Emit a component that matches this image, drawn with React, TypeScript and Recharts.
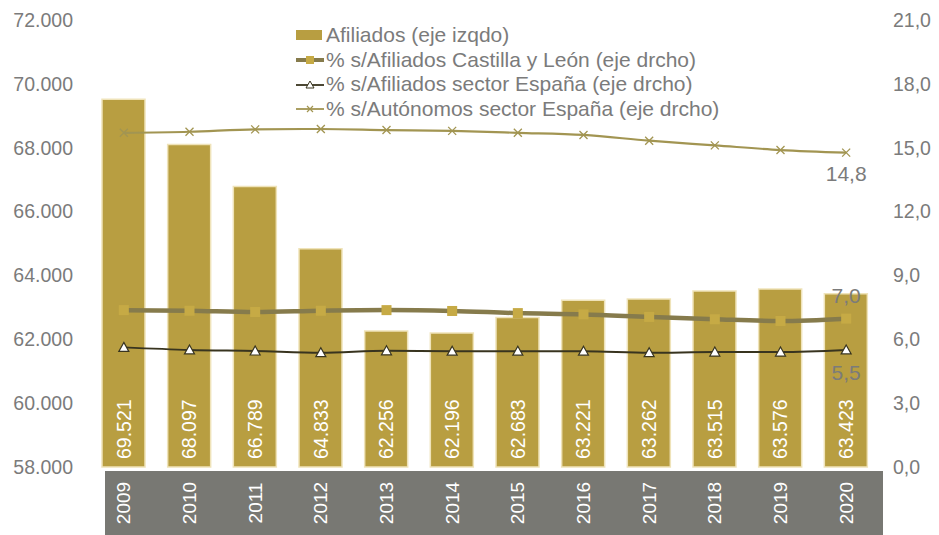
import { ComposedChart, Bar, Line, XAxis, YAxis, LabelList } from "recharts";

const years = ["2009", "2010", "2011", "2012", "2013", "2014", "2015", "2016", "2017", "2018", "2019", "2020"];
const afiliados = [69521, 68097, 66789, 64833, 62256, 62196, 62683, 63221, 63262, 63515, 63576, 63423];
const pctCyL = [7.37, 7.34, 7.28, 7.34, 7.37, 7.33, 7.23, 7.17, 7.05, 6.94, 6.86, 6.97];
const pctSector = [5.62, 5.5, 5.45, 5.37, 5.46, 5.44, 5.44, 5.44, 5.37, 5.4, 5.4, 5.5];
const pctAutonomos = [15.7, 15.75, 15.86, 15.88, 15.83, 15.79, 15.7, 15.6, 15.33, 15.11, 14.89, 14.77];
const leftTicks = [58000, 60000, 62000, 64000, 66000, 68000, 70000, 72000];
const rightTicks = [0, 3, 6, 9, 12, 15, 18, 21];

const data = years.map((year, i) => ({
  year,
  afiliados: afiliados[i],
  cyl: pctCyL[i],
  sector: pctSector[i],
  autonomos: pctAutonomos[i],
}));

const GREY = "#7b7b7b";
const BAR = "#b89e41";
const CYL_LINE = "#867b4c";
const CYL_DOT = "#c6aa45";
const SECTOR_LINE = "#38341f";
const AUTO_LINE = "#a29552";
const FONT = "'Liberation Sans', Arial, sans-serif";
const last = years.length - 1;

const fmtThousands = (v: number) => v.toLocaleString("de-DE");
const fmtComma = (v: number) => v.toFixed(1).replace(".", ",");

const YearTick = ({ x, y, payload }: any) => (
  <text
    x={x}
    y={y + 28}
    transform={`rotate(-90, ${x}, ${y + 28})`}
    textAnchor="middle"
    dominantBaseline="central"
    fill="#ffffff"
    fontSize={19}
    fontFamily={FONT}
  >
    {payload.value}
  </text>
);

const BarValue = ({ x, y, width, height, value }: any) => {
  const cx = x + width / 2;
  const by = y + height - 8;
  return (
    <text
      x={cx}
      y={by}
      transform={`rotate(-90, ${cx}, ${by})`}
      textAnchor="start"
      dominantBaseline="central"
      fill="#ffffff"
      fontSize={19.5}
      fontFamily={FONT}
    >
      {fmtThousands(value)}
    </text>
  );
};

const endLabel = (dy: number) => (props: any) => {
  if (props.index !== last) return <g />;
  return (
    <text
      x={props.x}
      y={props.y + dy}
      textAnchor="middle"
      dominantBaseline="central"
      fill={GREY}
      fontSize={21}
      fontFamily={FONT}
    >
      {fmtComma(props.value)}
    </text>
  );
};

const SquareDot = ({ cx, cy, index }: any) => (
  <rect key={`sq-${index}`} x={cx - 5} y={cy - 5} width={10} height={10} fill={CYL_DOT} />
);

const TriangleDot = ({ cx, cy, index }: any) => (
  <path
    key={`tr-${index}`}
    d={`M${cx},${cy - 5} L${cx + 5},${cy + 4} L${cx - 5},${cy + 4} Z`}
    fill="#ffffff"
    stroke={SECTOR_LINE}
    strokeWidth={1.2}
  />
);

const CrossDot = ({ cx, cy, index }: any) => (
  <path
    key={`x-${index}`}
    d={`M${cx - 4},${cy - 4} L${cx + 4},${cy + 4} M${cx - 4},${cy + 4} L${cx + 4},${cy - 4}`}
    stroke={AUTO_LINE}
    strokeWidth={1.3}
  />
);

const legendRows = [
  { label: "Afiliados (eje izqdo)", kind: "bar" },
  { label: "% s/Afiliados Castilla y León (eje drcho)", kind: "cyl" },
  { label: "% s/Afiliados sector España (eje drcho)", kind: "sector" },
  { label: "% s/Autónomos sector España (eje drcho)", kind: "auto" },
];

const LegendIcon = ({ kind }: { kind: string }) => (
  <svg width={30} height={14}>
    {kind === "bar" && <rect x={0} y={2} width={26} height={10} fill={BAR} />}
    {kind === "cyl" && (
      <>
        <line x1={0} y1={7} x2={28} y2={7} stroke={CYL_LINE} strokeWidth={4} />
        <rect x={10} y={3} width={8} height={8} fill={CYL_DOT} />
      </>
    )}
    {kind === "sector" && (
      <>
        <line x1={0} y1={7} x2={28} y2={7} stroke={SECTOR_LINE} strokeWidth={1.8} />
        <path d="M14,3 L18,10 L10,10 Z" fill="#fff" stroke={SECTOR_LINE} strokeWidth={1} />
      </>
    )}
    {kind === "auto" && (
      <>
        <line x1={0} y1={7} x2={28} y2={7} stroke={AUTO_LINE} strokeWidth={1.8} />
        <path d="M11,4 L17,10 M11,10 L17,4" stroke={AUTO_LINE} strokeWidth={1.2} />
      </>
    )}
  </svg>
);

const LegendBox = () => (
  <div
    style={{
      position: "absolute",
      left: 296,
      top: 23,
      fontFamily: FONT,
      fontSize: 21,
      color: GREY,
      lineHeight: "24.7px",
    }}
  >
    {legendRows.map((r) => (
      <div key={r.kind} style={{ display: "flex", alignItems: "center", whiteSpace: "nowrap" }}>
        <LegendIcon kind={r.kind} />
        <span>{r.label}</span>
      </div>
    ))}
  </div>
);

export default function App() {
  return (
    <div style={{ position: "relative", width: 939, height: 535 }}>
      <style>{`body{margin:0;}`}</style>
      <div
        style={{
          position: "absolute",
          left: 105,
          top: 471,
          width: 778,
          height: 64,
          background: "#787873",
        }}
      />
      <div style={{ position: "absolute", left: 0, top: 0 }}>
        <ComposedChart
          width={939}
          height={535}
          data={data}
          margin={{ top: 20, right: 0, bottom: 0, left: 0 }}
          barSize={43}
        >
          <XAxis
            dataKey="year"
            axisLine={false}
            tickLine={false}
            height={68}
            tick={<YearTick />}
            interval={0}
          />
          <YAxis
            yAxisId="left"
            orientation="left"
            width={91}
            domain={[58000, 72000]}
            ticks={leftTicks}
            tickFormatter={fmtThousands}
            axisLine={false}
            tickLine={false}
            tickMargin={12}
            tick={{ fill: GREY, fontSize: 19.5, fontFamily: FONT }}
          />
          <YAxis
            yAxisId="right"
            orientation="right"
            width={60}
            domain={[0, 21]}
            ticks={rightTicks}
            tickFormatter={fmtComma}
            axisLine={false}
            tickLine={false}
            tickMargin={8}
            tick={{ fill: GREY, fontSize: 19.5, fontFamily: FONT, textAnchor: "start" }}
          />
          <Bar
            yAxisId="left"
            dataKey="afiliados"
            fill={BAR}
            stroke="#efe3b9"
            strokeWidth={1.5}
            isAnimationActive={false}
          >
            <LabelList dataKey="afiliados" content={<BarValue />} />
          </Bar>
          <Line
            yAxisId="right"
            type="monotone"
            dataKey="autonomos"
            stroke={AUTO_LINE}
            strokeWidth={2.2}
            dot={CrossDot}
            activeDot={false}
            label={endLabel(21)}
            isAnimationActive={false}
          />
          <Line
            yAxisId="right"
            type="monotone"
            dataKey="sector"
            stroke={SECTOR_LINE}
            strokeWidth={2}
            dot={TriangleDot}
            activeDot={false}
            label={endLabel(23)}
            isAnimationActive={false}
          />
          <Line
            yAxisId="right"
            type="monotone"
            dataKey="cyl"
            stroke={CYL_LINE}
            strokeWidth={4.5}
            dot={SquareDot}
            activeDot={false}
            label={endLabel(-23)}
            isAnimationActive={false}
          />
        </ComposedChart>
      </div>
      <LegendBox />
    </div>
  );
}
